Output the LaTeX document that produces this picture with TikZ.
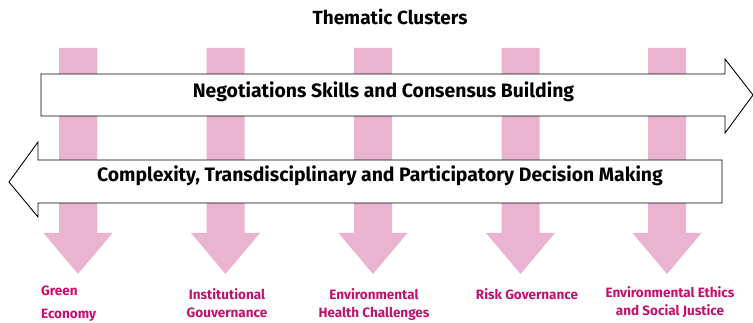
\documentclass[tikz,border=0pt]{standalone}
\usepackage{fontspec}
\setmainfont{Fira Sans}
\usepackage{tikz}

\definecolor{clusterpink}{HTML}{EAB3D0}
\definecolor{clustertext}{HTML}{C4106C}

\tikzset{
  band/.style={draw=black, fill=white, line width=0.9pt, line join=miter},
  bandtext/.style={font=\bfseries\fontsize{19.4}{22}\selectfont, inner sep=0pt, anchor=base},
  cluster/.style={fill=clusterpink, draw=none},
  clusterlabel/.style={font=\bfseries\fontsize{13.5}{18}\selectfont, text=clustertext, align=center, inner sep=0pt, anchor=north}
}

\begin{document}
\begin{tikzpicture}[x=1pt, y=-1pt]
  \useasboundingbox (0,0) rectangle (753,323);

  % Title
  \node [font=\bfseries\fontsize{19}{22}\selectfont, inner sep=0pt, anchor=base] (title) at (390,25) {Thematic Clusters};

  % Pink cluster arrows
  \foreach \cx [count=\i] in {78,225.5,373,520.5,667} {
    \path [cluster] (\cx-19,48) -- (\cx+19,48) -- (\cx+19,233) -- (\cx+34.5,233)
      -- (\cx,274) -- (\cx-34.5,233) -- (\cx-19,233) -- cycle;
    \coordinate (tip\i) at (\cx,274);
  }

  % Upper band (to the right)
  \draw [band] (41,74) -- (725,74) -- (725,59) -- (753,95) -- (725,133)
    -- (725,116) -- (41,116) -- cycle;
  \node [bandtext] (negotiation) at (383.5,98) {Negotiations Skills and Consensus Building};

  % Lower band (to the left)
  \draw [band] (722,160) -- (38,160) -- (38,142) -- (9,182) -- (38,217)
    -- (38,203) -- (722,203) -- cycle;
  \node [bandtext] (complexity) at (380,182) {Complexity, Transdisciplinary and Participatory Decision Making};

  % Cluster labels
  \node [clusterlabel, align=left, anchor=north west, font=\bfseries\fontsize{13.5}{23}\selectfont] (green) at (41,286) {Green\\Economy};
  \node [clusterlabel] (institutional) at (227,288) {Institutional\\Gouvernance};
  \node [clusterlabel] (health) at (374,288) {Environmental\\Health Challenges};
  \node [clusterlabel] (risk) at (527,288) {Risk Governance};
  \node [clusterlabel] (ethics) at (670,286) {Environmental Ethics\\and Social Justice};
\end{tikzpicture}
\end{document}
